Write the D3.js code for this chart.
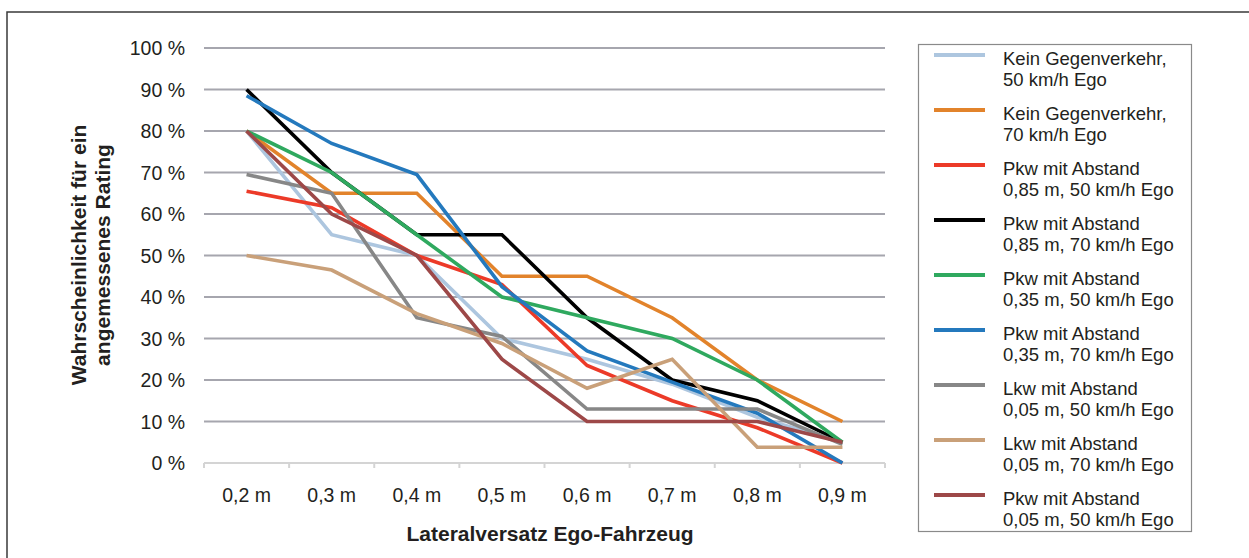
<!DOCTYPE html>
<meta charset="utf-8">
<style>
  body { margin: 0; background: #fff; }
  svg text { font-family: "Liberation Sans", Arial, Helvetica, sans-serif; fill: #231f20; }
  .series path { fill: none; stroke-width: 3.6px; stroke-linejoin: miter; }
</style>
<svg width="1249" height="558"></svg>
<script src="https://d3js.org/d3.v7.min.js"></script>
<script>
  // x categories and y ticks
  var categories = ["0,2 m", "0,3 m", "0,4 m", "0,5 m", "0,6 m", "0,7 m", "0,8 m", "0,9 m"];
  var yTicks = [0, 10, 20, 30, 40, 50, 60, 70, 80, 90, 100];

  // series values (percent)
  var kein50 = [80, 55, 50, 30, 25, 19, 11, 5];
  var kein70 = [80, 65, 65, 45, 45, 35, 20, 10];
  var pkw085_50 = [65.5, 61.5, 50, 43, 23.5, 15, 8.5, 0];
  var pkw085_70 = [90, 70, 55, 55, 35, 20, 15, 5];
  var pkw035_50 = [80, 70, 55, 40, 35, 30, 20, 5];
  var pkw035_70 = [88.5, 77, 69.5, 42.5, 27, 19.5, 12, 0];
  var lkw005_50 = [69.5, 65, 35, 30.5, 13, 13, 13, 4.5];
  var lkw005_70 = [50, 46.5, 36, 28.8, 18, 25, 3.8, 3.8];
  var pkw005_50 = [80, 60, 50, 25, 10, 10, 10, 5];

  var seriesLabels = [
    ["Kein Gegenverkehr,", "50 km/h Ego"],
    ["Kein Gegenverkehr,", "70 km/h Ego"],
    ["Pkw mit Abstand", "0,85 m, 50 km/h Ego"],
    ["Pkw mit Abstand", "0,85 m, 70 km/h Ego"],
    ["Pkw mit Abstand", "0,35 m, 50 km/h Ego"],
    ["Pkw mit Abstand", "0,35 m, 70 km/h Ego"],
    ["Lkw mit Abstand", "0,05 m, 50 km/h Ego"],
    ["Lkw mit Abstand", "0,05 m, 70 km/h Ego"],
    ["Pkw mit Abstand", "0,05 m, 50 km/h Ego"]
  ];
  var seriesValues = [kein50, kein70, pkw085_50, pkw085_70, pkw035_50, pkw035_70, lkw005_50, lkw005_70, pkw005_50];
  var seriesColors = ["#adc6df", "#e2832b", "#ec3a28", "#000000", "#2fa95f", "#2479bd", "#878787", "#c9a079", "#9d4848"];

  var svg = d3.select("svg");

  // outer frame (top and left edges only are visible)
  svg.append("path")
    .attr("d", "M7,558V12H1249")
    .attr("fill", "none")
    .attr("stroke", "#3a3a3a")
    .attr("stroke-width", 1.5);

  var x = d3.scaleBand().domain(categories).range([204, 885]);
  var y = d3.scaleLinear().domain([0, 100]).range([463, 48]);

  // gridlines
  svg.append("g").selectAll("line")
    .data(yTicks.filter(function(d) { return d > 0; }))
    .enter().append("line")
    .attr("x1", 204).attr("x2", 885)
    .attr("y1", function(d) { return y(d); })
    .attr("y2", function(d) { return y(d); })
    .attr("stroke", "#a6a6ae")
    .attr("stroke-width", 2);

  // x axis line with tick marks between categories
  var xAxis = d3.axisBottom(x).tickSize(0).tickFormat("");
  var gx = svg.append("g").attr("transform", "translate(0," + y(0) + ")").call(xAxis);
  gx.select(".domain").remove();
  gx.append("line").attr("x1", 204).attr("x2", 885).attr("stroke", "#d4d4d4").attr("stroke-width", 2);
  gx.selectAll("line.sep")
    .data(categories.concat(["end"]))
    .enter().append("line")
    .attr("class", "sep")
    .attr("x1", function(d, i) { return 204 + i * x.step(); })
    .attr("x2", function(d, i) { return 204 + i * x.step(); })
    .attr("y1", 0).attr("y2", 5)
    .attr("stroke", "#d4d4d4").attr("stroke-width", 2);

  // x tick labels
  svg.append("g").selectAll("text")
    .data(categories)
    .enter().append("text")
    .attr("x", function(d) { return x(d) + x.bandwidth() / 2; })
    .attr("y", 502)
    .attr("text-anchor", "middle")
    .style("font-size", "19.5px")
    .text(function(d) { return d; });

  // y tick labels
  svg.append("g").selectAll("text")
    .data(yTicks)
    .enter().append("text")
    .attr("x", 185)
    .attr("y", function(d) { return y(d); })
    .attr("dy", "0.36em")
    .attr("text-anchor", "end")
    .style("font-size", "19.5px")
    .text(function(d) { return d + " %"; });

  // axis titles
  svg.append("text")
    .attr("x", 550)
    .attr("y", 541)
    .attr("text-anchor", "middle")
    .style("font-size", "21px")
    .style("font-weight", "bold")
    .text("Lateralversatz Ego-Fahrzeug");

  var yt = svg.append("text")
    .attr("transform", "translate(86,255) rotate(-90)")
    .attr("text-anchor", "middle")
    .style("font-size", "21px")
    .style("font-weight", "bold");
  yt.append("tspan").attr("x", 0).attr("y", 0).text("Wahrscheinlichkeit für ein");
  yt.append("tspan").attr("x", 0).attr("y", 24).text("angemessenes Rating");

  // series lines
  var line = d3.line()
    .x(function(d, i) { return x(categories[i]) + x.bandwidth() / 2; })
    .y(function(d) { return y(d); });

  svg.append("g").attr("class", "series").selectAll("path")
    .data(seriesValues)
    .enter().append("path")
    .attr("stroke", function(d, i) { return seriesColors[i]; })
    .attr("d", line);

  // legend
  var legend = svg.append("g");
  legend.append("rect")
    .attr("x", 918.5).attr("y", 44.5)
    .attr("width", 273).attr("height", 487)
    .attr("fill", "#fff")
    .attr("stroke", "#8a8a8a")
    .attr("stroke-width", 1.2);

  var items = legend.selectAll("g.item")
    .data(seriesLabels)
    .enter().append("g")
    .attr("class", "item")
    .attr("transform", function(d, i) { return "translate(0," + (55 + i * 55) + ")"; });

  items.append("line")
    .attr("x1", 934).attr("x2", 985)
    .attr("stroke", function(d, i) { return seriesColors[i]; })
    .attr("stroke-width", 4);

  items.append("text")
    .attr("x", 1003).attr("y", 10)
    .style("font-size", "18.5px")
    .text(function(d) { return d[0]; });
  items.append("text")
    .attr("x", 1003).attr("y", 30.5)
    .style("font-size", "18.5px")
    .text(function(d) { return d[1]; });
</script>
